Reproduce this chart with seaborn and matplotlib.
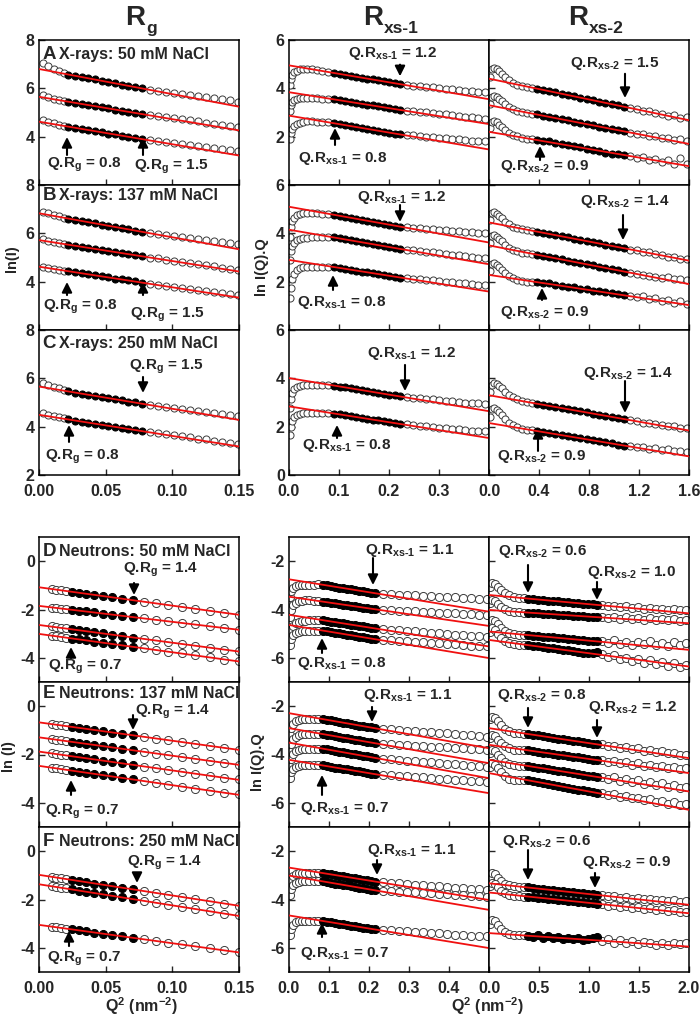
import matplotlib
matplotlib.use("Agg")
import matplotlib.pyplot as plt
import seaborn as sns
import pandas as pd
from matplotlib.ticker import FormatStrFormatter

# ---------------- Q^2 sampling (nm^-2) ----------------
xray_rg_q2 = [0.003, 0.007, 0.011, 0.015, 0.019,
              0.022, 0.027, 0.032, 0.037, 0.042, 0.047, 0.052, 0.057, 0.062, 0.067, 0.072, 0.077,
              0.083, 0.089, 0.095, 0.101, 0.107, 0.113, 0.119, 0.125, 0.131, 0.137, 0.143, 0.149]
xray_x1_q2 = [0.001, 0.003, 0.006, 0.010, 0.015, 0.021, 0.028, 0.036, 0.045, 0.055, 0.066, 0.077,
              0.090, 0.101, 0.112, 0.123, 0.134, 0.145, 0.156, 0.167, 0.178, 0.189, 0.200, 0.211, 0.222,
              0.235, 0.248, 0.261, 0.274, 0.287, 0.300, 0.313, 0.326, 0.339, 0.352, 0.365, 0.378, 0.391]
xray_x2_q2 = [0.005, 0.02, 0.04, 0.06, 0.08, 0.10, 0.13, 0.16, 0.19, 0.22, 0.26, 0.30, 0.34,
              0.38, 0.43, 0.48, 0.53, 0.58, 0.63, 0.68, 0.73, 0.78, 0.83, 0.88, 0.93, 0.98, 1.03, 1.08,
              1.13, 1.18, 1.23, 1.28, 1.33, 1.38, 1.43, 1.48, 1.53, 1.58]
neut_rg_q2 = [0.010, 0.013, 0.0165, 0.020, 0.0245, 0.030, 0.0355, 0.0415, 0.048, 0.055,
              0.0625, 0.0705, 0.079, 0.088, 0.097, 0.107, 0.117, 0.128, 0.139, 0.150]
neut_x1_q2 = [0.002, 0.006, 0.011, 0.017, 0.024, 0.032, 0.041, 0.051, 0.062, 0.073,
              0.085, 0.095, 0.105, 0.115, 0.125, 0.135, 0.145, 0.155, 0.165, 0.175, 0.185, 0.195, 0.205, 0.215,
              0.235, 0.255, 0.275, 0.295, 0.315, 0.335, 0.355, 0.375, 0.395, 0.415, 0.435, 0.455, 0.475, 0.495]
neut_x2_q2 = [0.01, 0.03, 0.06, 0.09, 0.12, 0.16, 0.20, 0.25, 0.30, 0.35,
              0.39, 0.44, 0.49, 0.54, 0.59, 0.64, 0.69, 0.74, 0.79, 0.84, 0.89, 0.94, 0.99, 1.04, 1.08,
              1.13, 1.19, 1.25, 1.31, 1.37, 1.43, 1.49, 1.55, 1.61, 1.67, 1.73, 1.79, 1.85, 1.91, 1.97]

# ---------------- X-rays, Guinier ln(I) ----------------
a_rg = [[7.06, 6.93, 6.80, 6.70, 6.62, 6.57, 6.52, 6.47, 6.42, 6.37, 6.31, 6.26, 6.21, 6.15, 6.10, 6.05, 6.00,
         5.95, 5.90, 5.86, 5.81, 5.77, 5.72, 5.68, 5.63, 5.59, 5.54, 5.50, 5.45],
        [5.71, 5.64, 5.57, 5.52, 5.48, 5.45, 5.40, 5.35, 5.31, 5.26, 5.21, 5.17, 5.12, 5.08, 5.03, 4.98, 4.94,
         4.90, 4.85, 4.81, 4.76, 4.72, 4.67, 4.63, 4.58, 4.54, 4.49, 4.45, 4.40],
        [4.67, 4.61, 4.55, 4.50, 4.45, 4.41, 4.37, 4.32, 4.27, 4.23, 4.18, 4.13, 4.09, 4.04, 3.99, 3.95, 3.90,
         3.86, 3.82, 3.78, 3.73, 3.69, 3.65, 3.61, 3.57, 3.53, 3.48, 3.44, 3.40]]
a_rg_fit = [(6.80, 5.24), (5.65, 4.26), (4.62, 3.22)]
b_rg = [[6.90, 6.84, 6.77, 6.70, 6.65, 6.61, 6.56, 6.51, 6.46, 6.41, 6.36, 6.31, 6.26, 6.21, 6.16, 6.11, 6.07,
         6.03, 5.98, 5.94, 5.90, 5.86, 5.81, 5.77, 5.73, 5.69, 5.64, 5.60, 5.56],
        [5.75, 5.69, 5.63, 5.58, 5.54, 5.53, 5.49, 5.44, 5.40, 5.36, 5.31, 5.27, 5.23, 5.18, 5.14, 5.10, 5.05,
         5.00, 4.96, 4.91, 4.86, 4.82, 4.77, 4.72, 4.68, 4.63, 4.58, 4.54, 4.49],
        [4.62, 4.58, 4.53, 4.49, 4.45, 4.43, 4.39, 4.35, 4.30, 4.26, 4.22, 4.18, 4.13, 4.09, 4.05, 4.01, 3.96,
         3.92, 3.88, 3.84, 3.79, 3.75, 3.71, 3.66, 3.62, 3.58, 3.54, 3.49, 3.45]]
b_rg_fit = [(6.83, 5.34), (5.72, 4.42), (4.62, 3.34)]
c_rg = [[5.80, 5.72, 5.64, 5.58, 5.53, 5.46, 5.41, 5.37, 5.32, 5.27, 5.23, 5.18, 5.14, 5.09, 5.04, 5.00, 4.95,
         4.91, 4.87, 4.83, 4.78, 4.74, 4.70, 4.66, 4.62, 4.58, 4.53, 4.49, 4.45],
        [4.56, 4.50, 4.44, 4.38, 4.34, 4.30, 4.25, 4.21, 4.17, 4.12, 4.08, 4.04, 3.99, 3.95, 3.91, 3.86, 3.82,
         3.78, 3.73, 3.69, 3.64, 3.60, 3.56, 3.51, 3.47, 3.42, 3.38, 3.33, 3.29]]
c_rg_fit = [(5.66, 4.28), (4.49, 3.18)]

# ---------------- X-rays, ln I(Q).Q  (Rxs-1 range) ----------------
a_x1 = [[4.15, 4.40, 4.55, 4.66, 4.73, 4.78, 4.80, 4.81, 4.79, 4.76, 4.72, 4.69,
         4.64, 4.60, 4.56, 4.52, 4.48, 4.44, 4.40, 4.37, 4.33, 4.29, 4.25, 4.21, 4.17,
         4.14, 4.11, 4.09, 4.06, 4.04, 4.01, 3.99, 3.96, 3.94, 3.91, 3.89, 3.86, 3.84],
        [3.08, 3.30, 3.43, 3.51, 3.56, 3.59, 3.60, 3.60, 3.60, 3.59, 3.57, 3.56,
         3.54, 3.51, 3.47, 3.43, 3.40, 3.36, 3.33, 3.29, 3.25, 3.22, 3.18, 3.14, 3.11,
         3.08, 3.05, 3.02, 3.00, 2.97, 2.94, 2.92, 2.89, 2.86, 2.83, 2.81, 2.78, 2.75],
        [1.90, 2.15, 2.33, 2.45, 2.53, 2.58, 2.61, 2.63, 2.63, 2.62, 2.61, 2.59,
         2.56, 2.52, 2.48, 2.44, 2.40, 2.36, 2.32, 2.29, 2.25, 2.21, 2.17, 2.13, 2.09,
         2.07, 2.05, 2.02, 2.00, 1.98, 1.96, 1.93, 1.91, 1.89, 1.87, 1.84, 1.82, 1.80]]
a_x1_fit = [(4.95, 3.55), (3.84, 2.52), (2.87, 1.47)]
b_x1 = [[3.86, 4.25, 4.50, 4.65, 4.74, 4.80, 4.83, 4.84, 4.84, 4.83, 4.81, 4.79,
         4.77, 4.73, 4.69, 4.64, 4.60, 4.56, 4.52, 4.48, 4.44, 4.40, 4.36, 4.32, 4.28,
         4.26, 4.24, 4.22, 4.20, 4.18, 4.15, 4.13, 4.11, 4.09, 4.07, 4.05, 4.02, 4.00],
        [2.90, 3.25, 3.48, 3.62, 3.71, 3.77, 3.80, 3.82, 3.83, 3.83, 3.83, 3.83,
         3.83, 3.79, 3.75, 3.71, 3.67, 3.63, 3.59, 3.55, 3.51, 3.47, 3.43, 3.39, 3.36,
         3.33, 3.30, 3.27, 3.24, 3.21, 3.18, 3.15, 3.12, 3.09, 3.06, 3.03, 3.00, 2.97],
        [1.31, 1.75, 2.10, 2.33, 2.47, 2.55, 2.59, 2.61, 2.62, 2.62, 2.62, 2.61,
         2.60, 2.57, 2.53, 2.50, 2.46, 2.42, 2.39, 2.35, 2.32, 2.28, 2.24, 2.21, 2.17,
         2.15, 2.12, 2.10, 2.07, 2.05, 2.02, 2.00, 1.98, 1.95, 1.93, 1.91, 1.88, 1.86]]
b_x1_fit = [(5.10, 3.62), (4.15, 2.72), (2.90, 1.59)]
c_x1 = [[2.77, 3.15, 3.40, 3.55, 3.64, 3.70, 3.73, 3.74, 3.74, 3.73, 3.72, 3.71,
         3.70, 3.66, 3.63, 3.59, 3.55, 3.51, 3.47, 3.44, 3.40, 3.36, 3.32, 3.29, 3.25,
         3.23, 3.20, 3.18, 3.15, 3.13, 3.10, 3.08, 3.05, 3.03, 3.00, 2.98, 2.96, 2.94],
        [1.67, 1.98, 2.22, 2.38, 2.47, 2.52, 2.55, 2.57, 2.57, 2.57, 2.56, 2.55,
         2.54, 2.51, 2.47, 2.44, 2.40, 2.36, 2.33, 2.29, 2.26, 2.22, 2.18, 2.15, 2.11,
         2.09, 2.06, 2.04, 2.01, 1.99, 1.96, 1.94, 1.91, 1.89, 1.86, 1.84, 1.83, 1.81]]
c_x1_fit = [(4.01, 2.64), (2.84, 1.53)]

# ---------------- X-rays, ln I(Q).Q  (Rxs-2 range) ----------------
a_x2 = [[4.45, 4.80, 4.84, 4.78, 4.70, 4.60, 4.45, 4.33, 4.23, 4.15, 4.09, 4.05, 4.02,
         3.99, 3.94, 3.88, 3.83, 3.78, 3.72, 3.67, 3.62, 3.56, 3.51, 3.45, 3.40, 3.35, 3.29, 3.24,
         3.17, 3.14, 3.06, 3.05, 2.96, 2.95, 2.87, 2.88, 2.78, 2.80],
        [3.35, 3.66, 3.70, 3.64, 3.56, 3.47, 3.34, 3.23, 3.14, 3.07, 3.01, 2.98, 2.95,
         2.92, 2.87, 2.82, 2.77, 2.72, 2.67, 2.62, 2.57, 2.52, 2.47, 2.42, 2.37, 2.32, 2.27, 2.22,
         2.17, 2.13, 2.09, 2.02, 2.03, 1.95, 1.94, 1.86, 1.90, 1.80],
        [2.35, 2.62, 2.66, 2.60, 2.50, 2.40, 2.27, 2.16, 2.07, 2.01, 1.95, 1.92, 1.89,
         1.86, 1.80, 1.80, 1.73, 1.70, 1.66, 1.60, 1.58, 1.50, 1.45, 1.42, 1.33, 1.30, 1.28, 1.24,
         1.20, 1.12, 1.15, 1.02, 1.06, 0.95, 1.05, 0.88, 1.10, 0.87]]
a_x2_fit = [(4.40, 2.68), (3.30, 1.70), (2.20, 0.78)]
b_x2 = [[4.55, 4.86, 4.90, 4.82, 4.72, 4.62, 4.48, 4.37, 4.28, 4.21, 4.16, 4.13, 4.10,
         4.07, 4.02, 3.97, 3.93, 3.88, 3.83, 3.78, 3.73, 3.68, 3.63, 3.58, 3.53, 3.48, 3.43, 3.38,
         3.32, 3.30, 3.22, 3.21, 3.13, 3.12, 3.03, 3.04, 2.95, 2.92],
        [3.60, 3.90, 3.93, 3.86, 3.77, 3.67, 3.53, 3.41, 3.32, 3.25, 3.20, 3.17, 3.14,
         3.12, 3.07, 3.02, 2.97, 2.92, 2.87, 2.82, 2.77, 2.72, 2.67, 2.62, 2.57, 2.52, 2.47, 2.42,
         2.37, 2.33, 2.29, 2.24, 2.21, 2.17, 2.18, 2.11, 2.10, 2.05],
        [2.45, 2.72, 2.76, 2.70, 2.61, 2.50, 2.36, 2.24, 2.15, 2.08, 2.03, 2.00, 1.98,
         1.98, 1.93, 1.93, 1.86, 1.84, 1.79, 1.76, 1.70, 1.69, 1.63, 1.60, 1.57, 1.52, 1.48, 1.44,
         1.40, 1.36, 1.42, 1.28, 1.32, 1.20, 1.26, 1.12, 1.20, 1.08]]
b_x2_fit = [(4.45, 2.87), (3.50, 1.90), (2.28, 1.03)]
c_x2 = [[3.45, 3.74, 3.80, 3.76, 3.68, 3.58, 3.44, 3.32, 3.22, 3.14, 3.07, 3.02, 2.98,
         2.95, 2.91, 2.86, 2.82, 2.77, 2.73, 2.68, 2.64, 2.59, 2.54, 2.50, 2.45, 2.41, 2.36, 2.32,
         2.26, 2.24, 2.17, 2.16, 2.10, 2.08, 2.03, 2.04, 1.96, 1.95],
        [2.40, 2.72, 2.77, 2.70, 2.59, 2.47, 2.30, 2.16, 2.05, 1.97, 1.91, 1.87, 1.85,
         1.82, 1.78, 1.74, 1.69, 1.65, 1.61, 1.57, 1.52, 1.48, 1.44, 1.39, 1.35, 1.31, 1.26, 1.22,
         1.18, 1.14, 1.16, 1.08, 1.10, 1.02, 1.06, 0.99, 1.00, 0.96]]
c_x2_fit = [(3.30, 1.84), (2.15, 0.77)]

# ---------------- Neutrons, Guinier ln(I) ----------------
d_rg = [[-1.16, -1.18, -1.21, -1.23, -1.27, -1.31, -1.35, -1.40, -1.44, -1.50, -1.55, -1.62,
         -1.68, -1.75, -1.82, -1.89, -1.97, -2.05, -2.14, -2.22],
        [-1.92, -1.93, -1.96, -1.98, -2.01, -2.05, -2.08, -2.12, -2.17, -2.21, -2.26, -2.32,
         -2.37, -2.43, -2.49, -2.56, -2.62, -2.70, -2.77, -2.83],
        [-2.68, -2.72, -2.75, -2.77, -2.82, -2.86, -2.90, -2.94, -2.99, -3.04, -3.10, -3.16,
         -3.22, -3.28, -3.35, -3.42, -3.50, -3.58, -3.66, -3.72],
        [-3.10, -3.11, -3.14, -3.16, -3.20, -3.24, -3.28, -3.33, -3.37, -3.43, -3.48, -3.54,
         -3.61, -3.68, -3.75, -3.82, -3.90, -3.98, -4.07, -4.12]]
d_rg_fit = [(-1.08, -2.22), (-1.85, -2.84), (-2.64, -3.74), (-3.01, -4.15)]
e_rg = [[-0.74, -0.76, -0.79, -0.82, -0.86, -0.90, -0.94, -0.99, -1.04, -1.09, -1.14, -1.21,
         -1.27, -1.34, -1.41, -1.48, -1.56, -1.64, -1.73, -1.80],
        [-1.36, -1.38, -1.41, -1.44, -1.48, -1.52, -1.56, -1.61, -1.66, -1.71, -1.76, -1.83,
         -1.89, -1.96, -2.03, -2.10, -2.18, -2.26, -2.35, -2.42],
        [-1.95, -1.98, -2.01, -2.04, -2.07, -2.11, -2.16, -2.20, -2.25, -2.31, -2.37, -2.43,
         -2.50, -2.57, -2.64, -2.72, -2.80, -2.88, -2.96, -3.03],
        [-2.55, -2.57, -2.61, -2.63, -2.67, -2.71, -2.76, -2.80, -2.86, -2.91, -2.97, -3.03,
         -3.10, -3.17, -3.25, -3.33, -3.41, -3.49, -3.58, -3.65]]
e_rg_fit = [(-0.67, -1.81), (-1.29, -2.43), (-1.88, -3.05), (-2.47, -3.67)]
f_rg = [[-1.06, -1.09, -1.12, -1.15, -1.19, -1.24, -1.28, -1.34, -1.39, -1.45, -1.51, -1.58,
         -1.65, -1.73, -1.81, -1.89, -1.98, -2.07, -2.17, -2.25],
        [-1.45, -1.48, -1.51, -1.54, -1.58, -1.63, -1.68, -1.73, -1.79, -1.85, -1.91, -1.98,
         -2.05, -2.13, -2.21, -2.30, -2.39, -2.48, -2.58, -2.66],
        [-3.12, -3.15, -3.18, -3.20, -3.24, -3.28, -3.32, -3.37, -3.41, -3.47, -3.52, -3.59,
         -3.65, -3.72, -3.79, -3.86, -3.94, -4.02, -4.11, -4.18]]
f_rg_fit = [(-0.98, -2.26), (-1.37, -2.68), (-3.05, -4.19)]

# ---------------- Neutrons, ln I(Q).Q  (Rxs-1 range) ----------------
d_x1 = [[-3.47, -3.25, -3.12, -3.04, -3.00, -2.98, -2.97, -2.97, -2.97, -2.96,
         -2.98, -3.00, -3.03, -3.06, -3.09, -3.11, -3.14, -3.17, -3.19, -3.22, -3.25, -3.27, -3.30, -3.33,
         -3.35, -3.37, -3.38, -3.40, -3.42, -3.43, -3.45, -3.47, -3.49, -3.50, -3.52, -3.54, -3.55, -3.57],
        [-4.29, -4.00, -3.82, -3.72, -3.66, -3.63, -3.62, -3.62, -3.63, -3.65,
         -3.68, -3.70, -3.72, -3.75, -3.77, -3.80, -3.82, -3.85, -3.87, -3.89, -3.92, -3.94, -3.97, -3.99,
         -4.01, -4.03, -4.05, -4.06, -4.08, -4.10, -4.11, -4.13, -4.15, -4.16, -4.18, -4.19, -4.21, -4.22],
        [-5.12, -4.85, -4.67, -4.57, -4.51, -4.48, -4.46, -4.45, -4.45, -4.44,
         -4.44, -4.47, -4.50, -4.52, -4.55, -4.57, -4.60, -4.63, -4.65, -4.68, -4.70, -4.73, -4.76, -4.78,
         -4.81, -4.84, -4.86, -4.89, -4.91, -4.94, -4.96, -4.99, -5.01, -5.04, -5.06, -5.08, -5.10, -5.12],
        [-5.46, -5.22, -5.06, -4.97, -4.92, -4.89, -4.88, -4.87, -4.87, -4.87,
         -4.87, -4.90, -4.93, -4.96, -4.98, -5.01, -5.04, -5.06, -5.09, -5.12, -5.15, -5.17, -5.20, -5.23,
         -5.25, -5.28, -5.30, -5.32, -5.34, -5.36, -5.38, -5.40, -5.42, -5.44, -5.46, -5.49, -5.51, -5.53]]
d_x1_fit = [(-2.75, -4.09), (-3.47, -4.68), (-4.22, -5.53), (-4.64, -6.01)]
e_x1 = [[-3.19, -2.90, -2.72, -2.62, -2.57, -2.54, -2.53, -2.53, -2.53, -2.53,
         -2.54, -2.57, -2.59, -2.62, -2.65, -2.68, -2.71, -2.74, -2.77, -2.80, -2.83, -2.86, -2.88, -2.91,
         -2.93, -2.96, -2.98, -3.01, -3.03, -3.06, -3.08, -3.11, -3.13, -3.16, -3.18, -3.21, -3.23, -3.26],
        [-3.88, -3.57, -3.37, -3.26, -3.20, -3.17, -3.16, -3.16, -3.16, -3.16,
         -3.16, -3.19, -3.21, -3.24, -3.27, -3.30, -3.33, -3.36, -3.39, -3.42, -3.45, -3.48, -3.50, -3.53,
         -3.55, -3.57, -3.59, -3.61, -3.63, -3.65, -3.67, -3.69, -3.71, -3.73, -3.75, -3.77, -3.79, -3.81],
        [-4.50, -4.18, -3.98, -3.87, -3.81, -3.78, -3.77, -3.76, -3.76, -3.76,
         -3.76, -3.79, -3.82, -3.85, -3.88, -3.91, -3.94, -3.97, -3.99, -4.02, -4.05, -4.08, -4.11, -4.14,
         -4.17, -4.19, -4.22, -4.25, -4.27, -4.30, -4.33, -4.36, -4.38, -4.41, -4.44, -4.47, -4.49, -4.52],
        [-4.98, -4.74, -4.59, -4.51, -4.47, -4.45, -4.45, -4.45, -4.45, -4.45,
         -4.45, -4.48, -4.51, -4.54, -4.57, -4.59, -4.62, -4.65, -4.68, -4.70, -4.73, -4.76, -4.79, -4.81,
         -4.84, -4.86, -4.88, -4.91, -4.93, -4.95, -4.97, -5.00, -5.02, -5.04, -5.06, -5.08, -5.10, -5.12]]
e_x1_fit = [(-2.29, -3.74), (-2.91, -4.36), (-3.51, -4.98), (-4.22, -5.60)]
f_x1 = [[-3.47, -3.20, -3.04, -2.96, -2.92, -2.91, -2.90, -2.90, -2.90, -2.90,
         -2.91, -2.93, -2.96, -2.99, -3.02, -3.04, -3.07, -3.10, -3.12, -3.15, -3.18, -3.20, -3.23, -3.26,
         -3.28, -3.31, -3.33, -3.36, -3.38, -3.41, -3.43, -3.46, -3.48, -3.51, -3.53, -3.55, -3.58, -3.60],
        [-3.81, -3.55, -3.38, -3.30, -3.26, -3.25, -3.24, -3.24, -3.24, -3.24,
         -3.25, -3.28, -3.31, -3.34, -3.37, -3.39, -3.42, -3.45, -3.48, -3.51, -3.54, -3.56, -3.59, -3.62,
         -3.64, -3.66, -3.67, -3.69, -3.71, -3.73, -3.75, -3.77, -3.78, -3.80, -3.82, -3.84, -3.86, -3.88],
        [-5.46, -5.20, -5.04, -4.95, -4.91, -4.89, -4.88, -4.88, -4.88, -4.88,
         -4.89, -4.92, -4.94, -4.97, -5.00, -5.02, -5.05, -5.08, -5.11, -5.13, -5.16, -5.19, -5.21, -5.24,
         -5.26, -5.28, -5.30, -5.32, -5.34, -5.36, -5.38, -5.40, -5.43, -5.45, -5.47, -5.49, -5.51, -5.53]]
f_x1_fit = [(-2.68, -4.02), (-3.01, -4.43), (-4.66, -6.01)]

# ---------------- Neutrons, ln I(Q).Q  (Rxs-2 range) ----------------
d_x2 = [[-3.05, -2.92, -2.95, -3.07, -3.20, -3.33, -3.42, -3.48, -3.51, -3.53,
         -3.55, -3.56, -3.59, -3.60, -3.63, -3.64, -3.66, -3.69, -3.70, -3.72, -3.74, -3.76, -3.78, -3.79, -3.81,
         -3.80, -3.86, -3.84, -3.90, -3.86, -3.93, -3.90, -3.96, -3.93, -3.99, -3.96, -4.01, -3.97, -4.03, -4.00],
        [-3.75, -3.60, -3.64, -3.76, -3.88, -3.99, -4.06, -4.10, -4.12, -4.13,
         -4.13, -4.14, -4.16, -4.17, -4.18, -4.20, -4.21, -4.22, -4.24, -4.25, -4.27, -4.28, -4.29, -4.31, -4.32,
         -4.30, -4.36, -4.32, -4.38, -4.33, -4.40, -4.35, -4.42, -4.37, -4.44, -4.38, -4.45, -4.40, -4.46, -4.42],
        [-4.60, -4.43, -4.48, -4.62, -4.76, -4.90, -4.98, -5.02, -5.04, -5.05,
         -5.06, -5.08, -5.10, -5.12, -5.13, -5.15, -5.17, -5.19, -5.21, -5.23, -5.25, -5.27, -5.29, -5.31, -5.32,
         -5.30, -5.38, -5.28, -5.42, -5.33, -5.47, -5.36, -5.44, -5.30, -5.48, -5.38, -5.50, -5.35, -5.45, -5.40],
        [-4.95, -4.77, -4.85, -5.00, -5.16, -5.30, -5.38, -5.43, -5.45, -5.46,
         -5.47, -5.50, -5.53, -5.56, -5.58, -5.61, -5.64, -5.67, -5.69, -5.72, -5.75, -5.78, -5.80, -5.79, -5.74,
         -5.85, -5.95, -5.90, -6.05, -6.00, -6.12, -6.05, -6.20, -6.10, -6.25, -6.18, -6.32, -6.22, -6.38, -6.30]]
d_x2_fit = [(-3.40, -4.16), (-4.02, -4.57), (-4.91, -5.67), (-5.26, -6.36)]
e_x2 = [[-2.55, -2.44, -2.48, -2.62, -2.77, -2.93, -3.03, -3.09, -3.12, -3.14,
         -3.15, -3.18, -3.21, -3.24, -3.28, -3.31, -3.34, -3.37, -3.40, -3.43, -3.46, -3.49, -3.52, -3.55, -3.58,
         -3.58, -3.66, -3.64, -3.72, -3.70, -3.78, -3.75, -3.84, -3.80, -3.88, -3.86, -3.95, -3.92, -4.00, -4.02],
        [-3.32, -3.20, -3.24, -3.38, -3.52, -3.66, -3.75, -3.80, -3.82, -3.83,
         -3.83, -3.86, -3.89, -3.92, -3.95, -3.97, -4.00, -4.03, -4.06, -4.09, -4.12, -4.15, -4.18, -4.21, -4.23,
         -4.24, -4.30, -4.28, -4.36, -4.33, -4.42, -4.37, -4.46, -4.42, -4.50, -4.46, -4.55, -4.50, -4.58, -4.55],
        [-3.95, -3.82, -3.86, -4.00, -4.15, -4.31, -4.40, -4.45, -4.47, -4.48,
         -4.48, -4.51, -4.54, -4.57, -4.61, -4.64, -4.67, -4.70, -4.74, -4.77, -4.80, -4.84, -4.87, -4.90, -4.93,
         -4.95, -5.00, -4.92, -5.08, -5.02, -5.15, -5.05, -5.20, -5.12, -5.28, -5.18, -5.33, -5.25, -5.40, -5.35],
        [-4.50, -4.37, -4.42, -4.57, -4.73, -4.90, -5.00, -5.05, -5.07, -5.07,
         -5.07, -5.10, -5.14, -5.18, -5.22, -5.26, -5.29, -5.33, -5.37, -5.41, -5.45, -5.48, -5.52, -5.56, -5.59,
         -5.60, -5.68, -5.64, -5.75, -5.72, -5.82, -5.78, -5.90, -5.85, -5.96, -5.92, -6.03, -5.98, -6.08, -6.05]]
e_x2_fit = [(-2.91, -4.15), (-3.60, -4.77), (-4.22, -5.53), (-4.77, -6.29)]
f_x2 = [[-3.05, -2.92, -2.96, -3.09, -3.22, -3.35, -3.42, -3.46, -3.48, -3.49,
         -3.50, -3.53, -3.55, -3.57, -3.59, -3.61, -3.64, -3.66, -3.68, -3.70, -3.73, -3.75, -3.77, -3.79, -3.81,
         -3.80, -3.87, -3.85, -3.92, -3.89, -3.96, -3.93, -3.99, -3.96, -4.03, -4.00, -4.06, -4.03, -4.09, -4.07],
        [-3.45, -3.33, -3.37, -3.50, -3.63, -3.75, -3.82, -3.86, -3.87, -3.88,
         -3.88, -3.90, -3.92, -3.94, -3.96, -3.99, -4.01, -4.03, -4.05, -4.07, -4.09, -4.11, -4.14, -4.16, -4.17,
         -4.18, -4.25, -4.22, -4.30, -4.27, -4.35, -4.30, -4.40, -4.36, -4.45, -4.41, -4.49, -4.45, -4.53, -4.50],
        [-5.00, -4.85, -4.90, -5.05, -5.20, -5.33, -5.41, -5.45, -5.47, -5.48,
         -5.50, -5.56, -5.48, -5.58, -5.52, -5.60, -5.54, -5.62, -5.58, -5.63, -5.60, -5.66, -5.62, -5.58, -5.55,
         -5.70, -5.62, -5.78, -5.68, -5.82, -5.72, -5.85, -5.75, -5.80, -5.88, -5.78, -5.90, -5.80, -5.86, -5.82]]
f_x2_fit = [(-3.33, -4.22), (-3.71, -4.57), (-5.39, -5.95)]

# fitted Q^2 windows (filled symbols)
xray_windows = {'rg': (0.020, 0.078), 'x1': (0.085, 0.224), 'x2': (0.36, 1.09)}
neut_windows = {'rg': (0.023, 0.072), 'x1': (0.080, 0.217), 'x2': (0.37, 1.09)}

# (label, text x, text y, arrow x, arrow tail y, arrow head y) in axes fractions
RG, X1, X2 = 'Q.R$_{g}$ = ', 'Q.R$_{xs\u20101}$ = ', 'Q.R$_{xs\u20102}$ = '
notes = {
    'A_rg': [(RG + '0.8', 0.04, 0.138, 0.14, 0.207, 0.331), (RG + '1.5', 0.475, 0.124, 0.52, 0.207, 0.331)],
    'B_rg': [(RG + '0.8', 0.02, 0.159, 0.14, 0.241, 0.331), (RG + '1.5', 0.455, 0.103, 0.52, 0.241, 0.331)],
    'C_rg': [(RG + '1.5', 0.45, 0.745, 0.52, 0.676, 0.566), (RG + '0.8', 0.03, 0.124, 0.15, 0.228, 0.345)],
    'A_x1': [(X1 + '1.2', 0.295, 0.91, 0.555, 0.83, 0.75), (X1 + '0.8', 0.045, 0.186, 0.23, 0.276, 0.393)],
    'B_x1': [(X1 + '1.2', 0.34, 0.917, 0.555, 0.862, 0.745), (X1 + '0.8', 0.04, 0.193, 0.22, 0.276, 0.379)],
    'C_x1': [(X1 + '1.2', 0.39, 0.841, 0.58, 0.759, 0.579), (X1 + '0.8', 0.065, 0.2, 0.24, 0.255, 0.345)],
    'A_x2': [(X2 + '1.5', 0.405, 0.841, 0.68, 0.767, 0.60), (X2 + '0.9', 0.055, 0.131, 0.255, 0.172, 0.269)],
    'B_x2': [(X2 + '1.4', 0.455, 0.883, 0.67, 0.793, 0.62), (X2 + '0.9', 0.055, 0.124, 0.265, 0.207, 0.29)],
    'C_x2': [(X2 + '1.4', 0.47, 0.703, 0.68, 0.648, 0.428), (X2 + '0.9', 0.04, 0.131, 0.245, 0.166, 0.324)],
    'D_rg': [(RG + '1.4', 0.42, 0.772, 0.475, 0.683, 0.60), (RG + '0.7', 0.045, 0.103, 0.16, 0.166, 0.241)],
    'E_rg': [(RG + '1.4', 0.48, 0.793, 0.47, 0.772, 0.669), (RG + '0.7', 0.03, 0.103, 0.16, 0.221, 0.324)],
    'F_rg': [(RG + '1.4', 0.44, 0.752, 0.49, 0.683, 0.614), (RG + '0.7', 0.04, 0.09, 0.15, 0.179, 0.283)],
    'D_x1': [(X1 + '1.1', 0.38, 0.91, 0.42, 0.855, 0.669), (X1 + '0.8', 0.04, 0.131, 0.165, 0.2, 0.303)],
    'E_x1': [(X1 + '1.1', 0.37, 0.91, 0.415, 0.828, 0.724), (X1 + '0.7', 0.055, 0.131, 0.165, 0.221, 0.359)],
    'F_x1': [(X1 + '1.1', 0.39, 0.841, 0.44, 0.772, 0.669), (X1 + '0.7', 0.055, 0.131, 0.165, 0.241, 0.338)],
    'D_x2': [(X2 + '0.6', 0.045, 0.897, 0.195, 0.807, 0.614), (X2 + '1.0', 0.49, 0.752, 0.54, 0.69, 0.566)],
    'E_x2': [(X2 + '0.8', 0.04, 0.91, 0.195, 0.821, 0.683), (X2 + '1.2', 0.495, 0.821, 0.54, 0.738, 0.614)],
    'F_x2': [(X2 + '0.6', 0.065, 0.897, 0.195, 0.841, 0.634), (X2 + '0.9', 0.465, 0.752, 0.53, 0.683, 0.579)],
}
titles = {'A': 'X-rays: 50 mM NaCl', 'B': 'X-rays: 137 mM NaCl', 'C': 'X-rays: 250 mM NaCl',
          'D': 'Neutrons: 50 mM NaCl', 'E': 'Neutrons: 137 mM NaCl', 'F': 'Neutrons: 250 mM NaCl'}

sns.set_style('ticks')
plt.rcParams['font.family'] = ['Liberation Sans', 'DejaVu Sans']
plt.rcParams['font.weight'] = 'bold'
plt.rcParams['axes.unicode_minus'] = False
plt.rcParams['mathtext.fontset'] = 'custom'
plt.rcParams['mathtext.rm'] = 'Liberation Sans:bold'
plt.rcParams['mathtext.it'] = 'Liberation Sans:bold'
plt.rcParams['mathtext.bf'] = 'Liberation Sans:bold'
plt.rcParams['mathtext.default'] = 'rm'

W, H = 700, 1017
fig = plt.figure(figsize=(W / 100, H / 100), dpi=100)
fig.patch.set_facecolor('white')

col_left = {'rg': 39, 'x1': 289, 'x2': 489}
row_top = {'A': 40, 'B': 185, 'C': 330, 'D': 537, 'E': 682, 'F': 827}


def draw_panel(ax, q2, curves, fits, window, x_max, size):
    lo, hi = window
    for ys, (y0, y1) in zip(curves, fits):
        df = pd.DataFrame({'q2': q2, 'y': ys})
        inside = df['q2'].between(lo, hi)
        sns.scatterplot(data=df[~inside], x='q2', y='y', ax=ax, s=size, color='white',
                        edgecolor='#3c3c3c', linewidth=0.7, zorder=2)
        sns.scatterplot(data=df[inside], x='q2', y='y', ax=ax, s=size, color='black',
                        edgecolor='black', linewidth=0.7, zorder=3)
        sns.lineplot(x=[0, x_max], y=[y0, y1], ax=ax, color='#f01010', linewidth=1.3, zorder=4)
    ax.set(xlabel='', ylabel='')


panels = [
    ('A', 'rg', xray_rg_q2, a_rg, a_rg_fit), ('B', 'rg', xray_rg_q2, b_rg, b_rg_fit),
    ('C', 'rg', xray_rg_q2, c_rg, c_rg_fit),
    ('A', 'x1', xray_x1_q2, a_x1, a_x1_fit), ('B', 'x1', xray_x1_q2, b_x1, b_x1_fit),
    ('C', 'x1', xray_x1_q2, c_x1, c_x1_fit),
    ('A', 'x2', xray_x2_q2, a_x2, a_x2_fit), ('B', 'x2', xray_x2_q2, b_x2, b_x2_fit),
    ('C', 'x2', xray_x2_q2, c_x2, c_x2_fit),
    ('D', 'rg', neut_rg_q2, d_rg, d_rg_fit), ('E', 'rg', neut_rg_q2, e_rg, e_rg_fit),
    ('F', 'rg', neut_rg_q2, f_rg, f_rg_fit),
    ('D', 'x1', neut_x1_q2, d_x1, d_x1_fit), ('E', 'x1', neut_x1_q2, e_x1, e_x1_fit),
    ('F', 'x1', neut_x1_q2, f_x1, f_x1_fit),
    ('D', 'x2', neut_x2_q2, d_x2, d_x2_fit), ('E', 'x2', neut_x2_q2, e_x2, e_x2_fit),
    ('F', 'x2', neut_x2_q2, f_x2, f_x2_fit),
]

for row, col, q2, curves, fits in panels:
    xray = row in 'ABC'
    left, top = col_left[col], row_top[row]
    ax = fig.add_axes([left / W, 1 - (top + 145) / H, 200 / W, 145 / H])
    if xray:
        x_max = {'rg': 0.15, 'x1': 0.4, 'x2': 1.6}[col]
        window = xray_windows[col]
        size = 26
    else:
        x_max = {'rg': 0.15, 'x1': 0.5, 'x2': 2.0}[col]
        window = neut_windows[col]
        size = 34
    draw_panel(ax, q2, curves, fits, window, x_max, size)
    ax.set_xlim(0, x_max)

    # y axis
    if col == 'rg':
        ylim = (2, 8) if xray else (-5, 1)
        yt = [2, 4, 6, 8] if xray else [-4, -2, 0]
    else:
        ylim = (0, 6) if xray else (-7, -1)
        yt = [0, 2, 4, 6] if xray else [-6, -4, -2]
    ax.set_ylim(*ylim)
    ax.set_yticks(yt)
    if xray and row != 'C':
        ax.set_yticklabels([''] + [str(v) for v in yt[1:]])

    # x axis
    if col == 'rg':
        xt, fmt = [0, 0.05, 0.10, 0.15], '%.2f'
    elif col == 'x1':
        xt, fmt = ([0, 0.1, 0.2, 0.3] if xray else [0, 0.1, 0.2, 0.3, 0.4]), '%.1f'
    else:
        xt, fmt = ([0, 0.4, 0.8, 1.2, 1.6] if xray else [0, 0.5, 1.0, 1.5, 2.0]), '%.1f'
    ax.set_xticks(xt)
    ax.xaxis.set_major_formatter(FormatStrFormatter(fmt))

    ax.tick_params(direction='in', length=4, width=1.0, labelsize=11.5, pad=3,
                   labelbottom=row in 'CF', labelleft=(col != 'x2'))
    ax.tick_params(axis='x', pad=6.5)
    for sp in ax.spines.values():
        sp.set_linewidth(1.1)
        sp.set_color('black')

    if col == 'rg':
        fy = {'A': 0.90, 'B': 0.925, 'C': 0.905, 'D': 0.897, 'E': 0.92, 'F': 0.903}[row]
        ax.text(0.018, fy, row, transform=ax.transAxes, ha='left', va='center', fontsize=13.5)
        ax.text(0.10, fy, titles[row], transform=ax.transAxes, ha='left', va='center', fontsize=11.5)

    for label, tx, ty, axx, tail, head in notes[row + '_' + col]:
        ax.text(tx, ty, label, transform=ax.transAxes, ha='left', va='center', fontsize=11)
        ax.annotate('', xy=(axx, head), xytext=(axx, tail), xycoords='axes fraction',
                    arrowprops=dict(arrowstyle='-|>,head_length=0.5,head_width=0.25', mutation_scale=12,
                                    lw=1.5, color='black', shrinkA=0, shrinkB=0))

# column headers
for x_r, sub in [(145, 'g'), (383, 'xs-1'), (588, 'xs-2')]:
    fig.text(x_r / W, 1 - 25 / H, 'R', ha='right', va='baseline', fontsize=20)
    fig.text((x_r + 1) / W, 1 - 33 / H, sub, ha='left', va='baseline', fontsize=12.5)

# axis titles
fig.text(12 / W, 1 - 259 / H, 'ln(I)', rotation=90, ha='center', va='center', fontsize=10.5)
fig.text(262 / W, 1 - 267 / H, 'ln I(Q).Q', rotation=90, ha='center', va='center', fontsize=10.5)
fig.text(9 / W, 1 - 757 / H, 'ln (I)', rotation=90, ha='center', va='center', fontsize=10.5)
fig.text(258 / W, 1 - 762 / H, 'ln I(Q).Q', rotation=90, ha='center', va='center', fontsize=10.5)
fig.text(141 / W, 1 - 1006 / H, 'Q$^{2}$ (nm$^{-2}$)', ha='center', va='center', fontsize=11.5)
fig.text(487 / W, 1 - 1006 / H, 'Q$^{2}$ (nm$^{-2}$)', ha='center', va='center', fontsize=11.5)

fig.savefig('out.png', dpi=100, facecolor='white')
